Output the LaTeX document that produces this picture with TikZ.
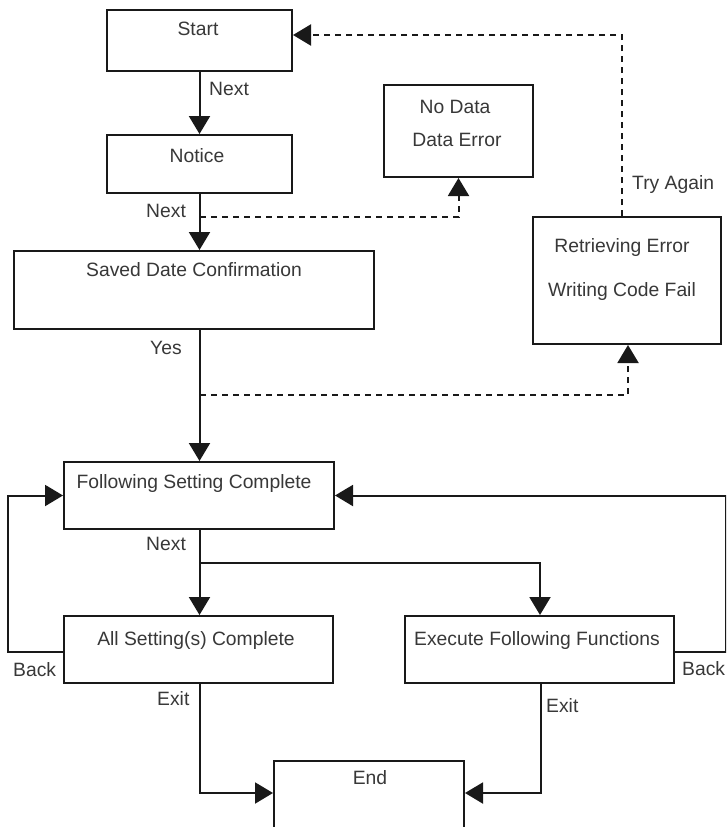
\documentclass[tikz,border=0pt]{standalone}
\usepackage{fontspec}
\setmainfont{Liberation Sans}
\usetikzlibrary{arrows.meta}
\begin{document}
\begin{tikzpicture}[x=1pt,y=-1pt,
  box/.style={draw=black!90, line width=2pt, inner sep=0pt},
  txt/.style={inner sep=0pt, anchor=base, text=black!78, font=\fontsize{19.3}{22}\selectfont},
  lbl/.style={inner sep=0pt, anchor=base west, text=black!78, font=\fontsize{19.3}{22}\selectfont},
  conn/.style={line width=2pt, draw=black!90},
  arr/.style={conn, -{Triangle[length=18pt,width=21pt]}},
  dsh/.style={arr, dash pattern=on 6pt off 5pt}]
\clip (0,0) rectangle (726,827);
\fill[white] (0,0) rectangle (726,827);

% boxes
\node[box, minimum width=185pt, minimum height=61pt] (start) at (199.5,40.5) {};
\node[box, minimum width=185pt, minimum height=58pt] (notice) at (199.5,164) {};
\node[box, minimum width=149pt, minimum height=92pt] (nodata) at (458.5,131) {};
\node[box, minimum width=360pt, minimum height=78pt] (saved) at (194,290) {};
\node[box, minimum width=188pt, minimum height=127pt] (retr) at (627,280.5) {};
\node[box, minimum width=270pt, minimum height=67pt] (follow) at (199,495.5) {};
\node[box, minimum width=269pt, minimum height=67pt] (allset) at (198.5,649.5) {};
\node[box, minimum width=269pt, minimum height=67pt] (exec) at (539.5,649.5) {};
\node[box, minimum width=190pt, minimum height=139pt] (end) at (369,830.5) {};

% box texts
\node[txt] (tStart) at (198,35) {Start};
\node[txt] (tNotice) at (197,162) {Notice};
\node[txt] (tNoData) at (455,113) {No Data};
\node[txt] (tDataErr) at (457,146) {Data Error};
\node[txt] (tSaved) at (194,276) {Saved Date Confirmation};
\node[txt] (tRetr) at (622,252) {Retrieving Error};
\node[txt] (tWrite) at (622,296) {Writing Code Fail};
\node[txt] (tFollow) at (194,488) {Following Setting Complete};
\node[txt] (tAll) at (196,645) {All Setting(s) Complete};
\node[txt] (tExec) at (537,645) {Execute Following Functions};
\node[txt] (tEnd) at (370,784) {End};

% connector labels
\node[lbl] (lNext1) at (209,95) {Next};
\node[lbl] (lNext2) at (146,217) {Next};
\node[lbl] (lYes) at (150,354) {Yes};
\node[lbl] (lTry) at (632,189) {Try Again};
\node[lbl] (lNext3) at (146,550) {Next};
\node[lbl] (lBackL) at (13,676) {Back};
\node[lbl] (lBackR) at (682,675) {Back};
\node[lbl] (lExitL) at (157,705) {Exit};
\node[lbl] (lExitR) at (546,712) {Exit};

% helper coordinates
\coordinate (d1) at (200,217);
\coordinate (d2) at (200,395);
\coordinate (br) at (200,563);
\coordinate (ey) at (0,793);

% solid connectors
\draw[arr] (start.south) -- (notice.north);
\draw[arr] (notice.south) -- (notice.south |- saved.north);
\draw[arr] (notice.south |- saved.south) -- (notice.south |- follow.north);
\draw[arr] (notice.south |- follow.south) -- (notice.south |- allset.north);
\draw[arr] (br) -| ([xshift=0.5pt]exec.north);
\draw[arr] ([yshift=-2.5pt]allset.west) -- ++(-55,0) |- (follow.west);
\draw[arr] ([yshift=-2.5pt]exec.east) -- ++(51,0) |- (follow.east);
\draw[arr] ([xshift=1.5pt]allset.south) |- (end.west |- ey);
\draw[arr] ([xshift=1pt]exec.south) |- (end.east |- ey);

% dashed connectors
\draw[dsh] (d1) -| (nodata.south);
\draw[dsh] (d2) -| ([xshift=1pt]retr.south);
\draw[dsh] ([xshift=-5pt]retr.north) |- ([yshift=5.5pt]start.east);
\end{tikzpicture}
\end{document}
